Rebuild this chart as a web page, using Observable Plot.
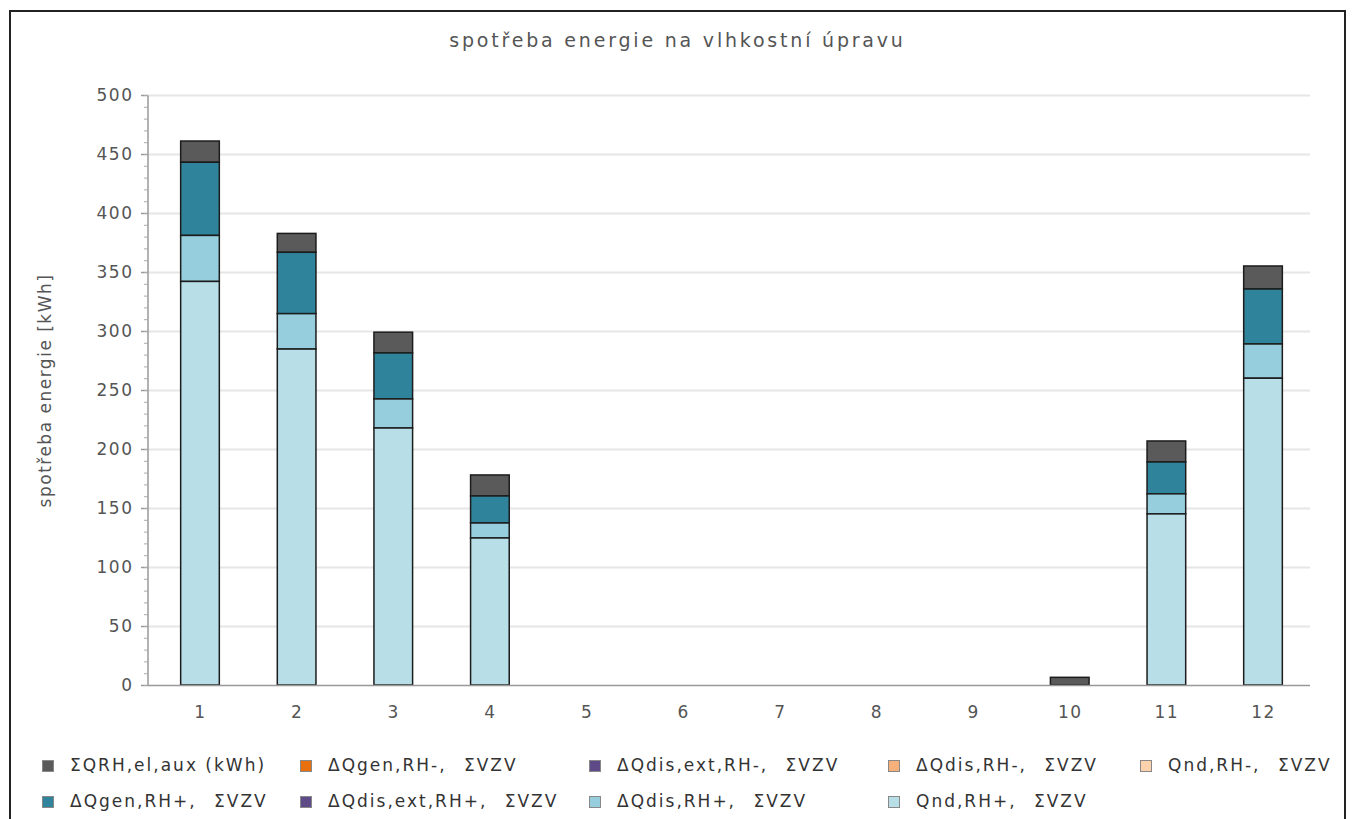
<!DOCTYPE html>
<html>
<head>
<meta charset="utf-8">
<script src="https://cdn.jsdelivr.net/npm/d3@7"></script>
<script src="https://cdn.jsdelivr.net/npm/@observablehq/plot@0.6"></script>
<style>
  html, body { margin: 0; padding: 0; background: #fff; width: 1355px; height: 819px; overflow: hidden; }
  #frame { position: absolute; left: 9px; top: 10px; width: 1337px; height: 830px; border: 2px solid #222; box-sizing: border-box; }
  #title { position: absolute; left: 9px; width: 1337px; top: 29px; text-align: center; font-family: "DejaVu Sans", sans-serif; font-size: 19px; letter-spacing: 2.8px; color: #555; }
  #chart { position: absolute; left: 0; top: 0; }
  #legend { position: absolute; left: 0; top: 0; width: 1355px; height: 819px; pointer-events: none; font-family: "DejaVu Sans", sans-serif; font-size: 17px; letter-spacing: 2px; color: #333; }
  .li { position: absolute; white-space: nowrap; }
  .li span { padding-left: 10px; }
  .sw { position: absolute; width: 12px; height: 12px; border: 1px solid #888; box-sizing: border-box; }
</style>
</head>
<body>
<div id="frame"></div>
<div id="title">spotřeba energie na vlhkostní úpravu</div>
<div id="chart"></div>
<div id="legend"></div>
<script>
// ---- data ----
const months = [1, 2, 3, 4, 5, 6, 7, 8, 9, 10, 11, 12];
const seriesNames = [
  "ΣQRH,el,aux (kWh)",
  "ΔQgen,RH-, ΣVZV",
  "ΔQdis,ext,RH-, ΣVZV",
  "ΔQdis,RH-, ΣVZV",
  "Qnd,RH-, ΣVZV",
  "ΔQgen,RH+, ΣVZV",
  "ΔQdis,ext,RH+, ΣVZV",
  "ΔQdis,RH+, ΣVZV",
  "Qnd,RH+, ΣVZV"
];
const seriesColors = ["#5a5a5a", "#e8700e", "#5e4a87", "#f6b07c", "#fdd3ad", "#2f849b", "#5e4a87", "#96cedd", "#b8dee8"];
const auxValues      = [18, 16, 17.6, 17.8, 0, 0, 0, 0, 0, 6.5, 17.8, 19.5];
const genMinus       = [0, 0, 0, 0, 0, 0, 0, 0, 0, 0, 0, 0];
const disExtMinus    = [0, 0, 0, 0, 0, 0, 0, 0, 0, 0, 0, 0];
const disMinus       = [0, 0, 0, 0, 0, 0, 0, 0, 0, 0, 0, 0];
const ndMinus        = [0, 0, 0, 0, 0, 0, 0, 0, 0, 0, 0, 0];
const genPlus        = [62, 52, 39, 22.9, 0, 0, 0, 0, 0, 0, 27, 46.6];
const disExtPlus     = [0, 0, 0, 0, 0, 0, 0, 0, 0, 0, 0, 0];
const disPlus        = [39, 30, 24.6, 12.7, 0, 0, 0, 0, 0, 0, 17, 29];
const ndPlus         = [342, 284.7, 217.8, 124.6, 0, 0, 0, 0, 0, 0, 145, 260];
const yTicks = [0, 50, 100, 150, 200, 250, 300, 350, 400, 450, 500];
const yMinorTicks = d3.range(0, 501, 10);
const yLabel = "spotřeba energie [kWh]";

const seriesValues = [auxValues, genMinus, disExtMinus, disMinus, ndMinus, genPlus, disExtPlus, disPlus, ndPlus];
// stacking order bottom -> top
const stackOrder = ["Qnd,RH+, ΣVZV", "ΔQdis,RH+, ΣVZV", "ΔQdis,ext,RH+, ΣVZV", "ΔQgen,RH+, ΣVZV",
  "Qnd,RH-, ΣVZV", "ΔQdis,RH-, ΣVZV", "ΔQdis,ext,RH-, ΣVZV", "ΔQgen,RH-, ΣVZV", "ΣQRH,el,aux (kWh)"];

const rows = [];
seriesNames.forEach((s, i) => {
  months.forEach((m, j) => {
    const v = seriesValues[i][j];
    if (v > 0) rows.push({month: String(m), series: s, value: v});
  });
});

const W = 1355, H = 745;
const mL = 148, mR = 40, mT = 95, mB = 60;

const plot = Plot.plot({
  width: W,
  height: H,
  marginLeft: mL,
  marginRight: mR,
  marginTop: mT,
  marginBottom: mB,
  style: {fontFamily: "DejaVu Sans, sans-serif", fontSize: "17px", color: "#555", background: "transparent"},
  x: {type: "band", domain: months.map(String), paddingInner: 0.6, paddingOuter: 0.338, round: false, axis: null},
  y: {domain: [0, 500], axis: null},
  color: {domain: seriesNames, range: seriesColors},
  marks: [
    // grid
    Plot.ruleY(yTicks.filter(d => d > 0), {stroke: "#e6e6e6", strokeWidth: 2, render: (i, s, v, d, c, next) => {
      const g = next(i, s, v, d, c);
      g.querySelectorAll("line").forEach(l => { l.setAttribute("x1", mL); l.setAttribute("x2", 1310); });
      return g;
    }}),
    // bars
    Plot.barY(rows, Plot.stackY({
      x: "month",
      y: "value",
      z: "series",
      fill: "series",
      order: stackOrder,
      stroke: "#1c1c1c",
      strokeWidth: 1.5
    })),
    // x axis line
    Plot.ruleY([0], {stroke: "#999", strokeWidth: 1.5, render: (i, s, v, d, c, next) => {
      const g = next(i, s, v, d, c);
      g.querySelectorAll("line").forEach(l => { l.setAttribute("x1", mL); l.setAttribute("x2", 1310); });
      return g;
    }}),
    // y axis line
    Plot.ruleY([0], {stroke: "#999", strokeWidth: 1.5, render: (i, s, v, d, c, next) => {
      const g = next(i, s, v, d, c);
      g.querySelectorAll("line").forEach(l => {
        l.setAttribute("x1", mL); l.setAttribute("x2", mL);
        l.setAttribute("y1", s.y(0)); l.setAttribute("y2", s.y(500));
      });
      return g;
    }}),
    // major ticks
    Plot.tickY(yTicks, {y: d => d, stroke: "#999", strokeWidth: 1.5, render: (i, s, v, d, c, next) => {
      const g = next(i, s, v, d, c);
      g.querySelectorAll("line").forEach(l => { l.setAttribute("x1", mL - 7); l.setAttribute("x2", mL); });
      return g;
    }}),
    // minor ticks
    Plot.tickY(yMinorTicks, {y: d => d, stroke: "#aaa", strokeWidth: 1, render: (i, s, v, d, c, next) => {
      const g = next(i, s, v, d, c);
      g.querySelectorAll("line").forEach(l => { l.setAttribute("x1", mL - 4); l.setAttribute("x2", mL); });
      return g;
    }}),
    // y tick labels
    Plot.axisY({ticks: yTicks, tickSize: 0, tickPadding: 15, label: null, fontSize: 17, fill: "#555"}),
    // x tick labels
    Plot.axisX({tickSize: 0, tickPadding: 20, label: null, fontSize: 17, fill: "#555"}),
    // y label
    Plot.text([yLabel], {frameAnchor: "left", textAnchor: "middle", rotate: -90, dx: -103, fontSize: 17, fill: "#555"})
  ]
});
plot.querySelectorAll("text").forEach(t => t.style.letterSpacing = "1.5px");
document.getElementById("chart").appendChild(plot);

// legend
const legend = document.getElementById("legend");
const colX = [42, 300, 589, 888, 1140];
const rowY = [766, 802];
seriesNames.forEach((s, i) => {
  const r = i < 5 ? 0 : 1;
  const c = i < 5 ? i : i - 5;
  const sw = document.createElement("div");
  sw.className = "sw";
  sw.style.left = colX[c] + "px";
  sw.style.top = (rowY[r] - 6) + "px";
  sw.style.background = seriesColors[i];
  legend.appendChild(sw);
  const t = document.createElement("div");
  t.className = "li";
  t.style.left = (colX[c] + 28) + "px";
  t.style.top = (rowY[r] - 11) + "px";
  const k = s.indexOf(", Σ");
  if (k >= 0) {
    t.appendChild(document.createTextNode(s.slice(0, k + 1)));
    const sp = document.createElement("span");
    sp.textContent = s.slice(k + 1);
    t.appendChild(sp);
  } else {
    t.textContent = s;
  }
  legend.appendChild(t);
});
</script>
</body>
</html>
